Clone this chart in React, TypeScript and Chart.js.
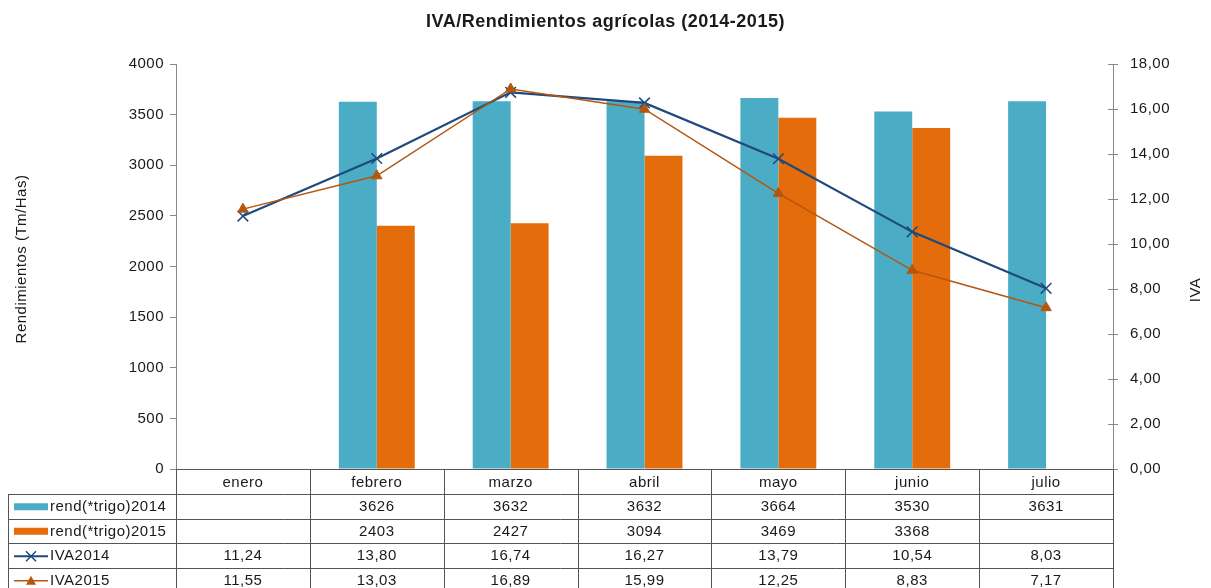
import React, { useEffect, useRef } from 'react';
import { Chart, registerables } from 'chart.js';

Chart.register(...registerables);

const categories = ['enero', 'febrero', 'marzo', 'abril', 'mayo', 'junio', 'julio'];
const rend2014: (number | null)[] = [null, 3626, 3632, 3632, 3664, 3530, 3631];
const rend2015: (number | null)[] = [null, 2403, 2427, 3094, 3469, 3368, null];
const iva2014: number[] = [11.24, 13.8, 16.74, 16.27, 13.79, 10.54, 8.03];
const iva2015: number[] = [11.55, 13.03, 16.89, 15.99, 12.25, 8.83, 7.17];

const seriesLabels = ['rend(*trigo)2014', 'rend(*trigo)2015', 'IVA2014', 'IVA2015'];
const chartTitle = 'IVA/Rendimientos agrícolas (2014-2015)';
const leftTitle = 'Rendimientos (Tm/Has)';
const rightTitle = 'IVA';

const FONT = '"Liberation Sans", Arial, sans-serif';
const TEAL = '#4BACC6';
const ORANGE = '#E46C0A';
const NAVY = '#1F497D';
const BROWN = '#B5560F';
const TEXT = '#1a1a1a';
const AXIS = '#888';
const GRIDLINE = '#555';

const fmtComma = (v: number | null) => (v == null ? '' : v.toFixed(2).replace('.', ','));
const fmtInt = (v: number | null) => (v == null ? '' : String(v));

const extrasPlugin = {
  id: 'extras',
  beforeDraw(chart: any) {
    const ctx = chart.ctx;
    ctx.letterSpacing = '0.5px';
  },
  afterDraw(chart: any) {
    const ctx: CanvasRenderingContext2D = chart.ctx;
    const area = chart.chartArea;
    const xs = chart.scales.x;
    const yR = chart.scales.y1;
    ctx.save();
    (ctx as any).letterSpacing = '0.5px';

    // Title
    ctx.fillStyle = TEXT;
    ctx.font = `bold 18px ${FONT}`;
    ctx.textAlign = 'center';
    ctx.textBaseline = 'middle';
    ctx.fillText(chartTitle, chart.width / 2, 22);

    // Axis titles
    ctx.font = `15px ${FONT}`;
    ctx.save();
    ctx.translate(22, 259);
    ctx.rotate(-Math.PI / 2);
    ctx.fillText(leftTitle, 0, 0);
    ctx.restore();
    ctx.save();
    ctx.translate(1196, 290);
    ctx.rotate(-Math.PI / 2);
    ctx.fillText(rightTitle, 0, 0);
    ctx.restore();

    // right axis inner tick halves
    ctx.strokeStyle = AXIS;
    ctx.lineWidth = 1;
    yR.ticks.forEach((t: any) => {
      const y = Math.round(yR.getPixelForValue(t.value)) + 0.5;
      ctx.beginPath();
      ctx.moveTo(area.right - 5, y);
      ctx.lineTo(area.right, y);
      ctx.stroke();
    });

    // Data table
    const n = categories.length;
    const cw = xs.width / n;
    const left = 8;
    const top = area.bottom;
    const headerH = 25;
    const rowH = 24.5;
    const rowsTop = top + headerH;
    const bottom = rowsTop + rowH * 4;
    const bounds: number[] = [];
    for (let i = 0; i <= n; i++) bounds.push(xs.left + i * cw);

    ctx.strokeStyle = GRIDLINE;
    ctx.lineWidth = 1;
    ctx.beginPath();
    ctx.moveTo(area.left, Math.round(top) + 0.5);
    ctx.lineTo(area.right, Math.round(top) + 0.5);
    for (let r = 0; r <= 4; r++) {
      const y = Math.round(rowsTop + r * rowH) + 0.5;
      ctx.moveTo(left, y);
      ctx.lineTo(area.right, y);
    }
    ctx.moveTo(left + 0.5, rowsTop);
    ctx.lineTo(left + 0.5, bottom);
    bounds.forEach((bx) => {
      const x = Math.round(bx) + 0.5;
      ctx.moveTo(x, top);
      ctx.lineTo(x, bottom);
    });
    ctx.stroke();

    ctx.fillStyle = TEXT;
    ctx.font = `15px ${FONT}`;
    ctx.textAlign = 'center';
    ctx.textBaseline = 'middle';
    categories.forEach((c, i) => {
      ctx.fillText(c, xs.getPixelForValue(i), top + headerH / 2 + 1);
    });

    const rows: { vals: (number | null)[]; fmt: (v: number | null) => string }[] = [
      { vals: rend2014, fmt: fmtInt },
      { vals: rend2015, fmt: fmtInt },
      { vals: iva2014, fmt: fmtComma },
      { vals: iva2015, fmt: fmtComma },
    ];
    rows.forEach((row, r) => {
      const cy = rowsTop + r * rowH + rowH / 2 + 1;
      ctx.fillStyle = TEXT;
      row.vals.forEach((v, i) => {
        ctx.textAlign = 'center';
        ctx.fillText(row.fmt(v), xs.getPixelForValue(i), cy);
      });
      const kx0 = 14;
      const kx1 = 48;
      if (r < 2) {
        ctx.fillStyle = r === 0 ? TEAL : ORANGE;
        ctx.fillRect(kx0, cy - 4, kx1 - kx0, 7);
      } else {
        ctx.strokeStyle = r === 2 ? NAVY : BROWN;
        ctx.lineWidth = r === 2 ? 2 : 1.5;
        ctx.beginPath();
        ctx.moveTo(kx0, cy);
        ctx.lineTo(kx1, cy);
        ctx.stroke();
        const mx = (kx0 + kx1) / 2;
        if (r === 2) {
          ctx.lineWidth = 1.5;
          ctx.beginPath();
          ctx.moveTo(mx - 5, cy - 5);
          ctx.lineTo(mx + 5, cy + 5);
          ctx.moveTo(mx - 5, cy + 5);
          ctx.lineTo(mx + 5, cy - 5);
          ctx.stroke();
        } else {
          ctx.fillStyle = BROWN;
          ctx.beginPath();
          ctx.moveTo(mx, cy - 5);
          ctx.lineTo(mx + 5, cy + 4);
          ctx.lineTo(mx - 5, cy + 4);
          ctx.closePath();
          ctx.fill();
        }
      }
      ctx.fillStyle = TEXT;
      ctx.textAlign = 'left';
      ctx.fillText(seriesLabels[r], 50, cy);
    });

    ctx.restore();
  },
};

export default function App() {
  const ref = useRef<HTMLCanvasElement | null>(null);
  useEffect(() => {
    if (!ref.current) return;
    const chart = new Chart(ref.current, {
      type: 'bar',
      data: {
        labels: categories,
        datasets: [
          {
            type: 'line',
            label: seriesLabels[3],
            data: iva2015,
            yAxisID: 'y1',
            borderColor: BROWN,
            backgroundColor: BROWN,
            borderWidth: 1.5,
            pointStyle: 'triangle',
            pointRadius: 6,
            pointBorderWidth: 1,
            order: 0,
          } as any,
          {
            type: 'line',
            label: seriesLabels[2],
            data: iva2014,
            yAxisID: 'y1',
            borderColor: NAVY,
            backgroundColor: NAVY,
            borderWidth: 2.2,
            pointStyle: 'crossRot',
            pointRadius: 7.5,
            pointBorderWidth: 1.5,
            order: 1,
          } as any,
          {
            type: 'bar',
            label: seriesLabels[0],
            data: rend2014,
            yAxisID: 'y',
            backgroundColor: TEAL,
            categoryPercentage: 0.567,
            barPercentage: 1,
            order: 2,
          },
          {
            type: 'bar',
            label: seriesLabels[1],
            data: rend2015,
            yAxisID: 'y',
            backgroundColor: ORANGE,
            categoryPercentage: 0.567,
            barPercentage: 1,
            order: 3,
          },
        ],
      },
      options: {
        responsive: false,
        animation: false,
        devicePixelRatio: 1,
        layout: { padding: { top: 64, bottom: 119, left: 0, right: 0 } },
        plugins: {
          legend: { display: false },
          title: { display: false },
          tooltip: { enabled: false },
        },
        scales: {
          x: {
            display: false,
            offset: true,
          },
          y: {
            position: 'left',
            min: 0,
            max: 4000,
            ticks: {
              stepSize: 500,
              color: TEXT,
              font: { family: FONT, size: 15 },
              padding: 6,
              callback: (v: any) => String(v),
            },
            grid: { drawOnChartArea: false, drawTicks: true, tickLength: 6, color: AXIS },
            border: { display: true, color: AXIS },
            afterFit: (s: any) => {
              s.width = 176;
            },
          },
          y1: {
            position: 'right',
            min: 0,
            max: 18,
            ticks: {
              stepSize: 2,
              color: TEXT,
              font: { family: FONT, size: 15 },
              padding: 12,
              callback: (v: any) => fmtComma(Number(v)),
            },
            grid: { drawOnChartArea: false, drawTicks: true, tickLength: 5, color: AXIS },
            border: { display: true, color: AXIS },
            afterFit: (s: any) => {
              s.width = 98;
            },
          },
        },
      } as any,
      plugins: [extrasPlugin],
    });
    return () => chart.destroy();
  }, []);

  return (
    <div style={{ position: 'fixed', left: 0, top: 0, width: 1211, height: 588, background: '#fff' }}>
      <canvas ref={ref} width={1211} height={588} style={{ width: 1211, height: 588, display: 'block' }} />
    </div>
  );
}
